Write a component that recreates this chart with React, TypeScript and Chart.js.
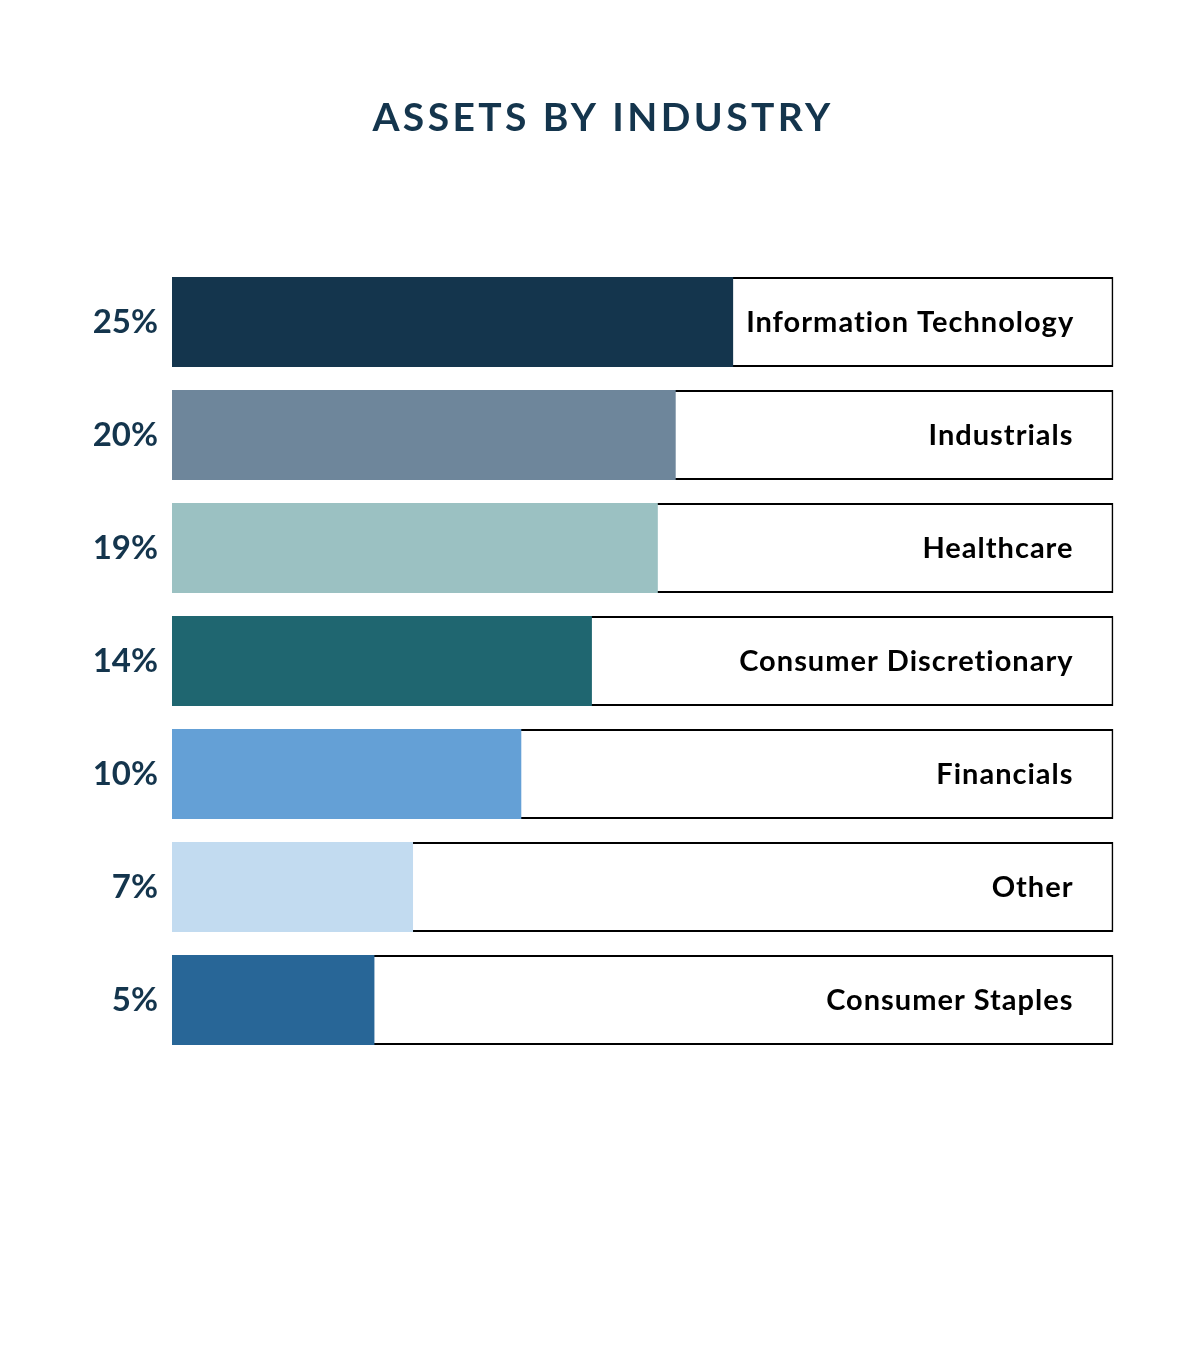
import React, { useEffect, useRef } from "react";
import { Chart, registerables } from "chart.js";

Chart.register(...registerables);

const titleText = "ASSETS BY INDUSTRY";
const categories = [
  "Information Technology",
  "Industrials",
  "Healthcare",
  "Consumer Discretionary",
  "Financials",
  "Other",
  "Consumer Staples",
];
const percentLabels = ["25%", "20%", "19%", "14%", "10%", "7%", "5%"];
// drawn fill length of each bar, on a 0–100 scale of the outlined box
const fillLengths = [59.6, 53.5, 51.6, 44.6, 37.1, 25.6, 21.5];
const boxLengths = [100, 100, 100, 100, 100, 100, 100];
const barColors = ["#14354D", "#6E869B", "#9BC1C2", "#1F6670", "#64A0D6", "#C2DBF0", "#286697"];

const NAVY = "#14354D";
const FONT = "Lato, 'Noto Sans', sans-serif";

const titlePlugin = {
  id: "titlePlugin",
  afterDraw(chart: any) {
    const ctx = chart.ctx;
    ctx.save();
    ctx.font = `700 39px ${FONT}`;
    ctx.fillStyle = NAVY;
    ctx.textBaseline = "middle";
    ctx.textAlign = "center";
    (ctx as any).letterSpacing = "3.4px";
    ctx.fillText(titleText, 603, 118);
    ctx.restore();
  },
};

const categoryLabelPlugin = {
  id: "categoryLabelPlugin",
  afterDatasetsDraw(chart: any) {
    const ctx = chart.ctx;
    const meta = chart.getDatasetMeta(0);
    const area = chart.chartArea;
    ctx.save();
    ctx.font = `700 29px ${FONT}`;
    (ctx as any).letterSpacing = "1px";
    ctx.fillStyle = "#000000";
    ctx.textBaseline = "middle";
    ctx.textAlign = "left";
    meta.data.forEach((bar: any, i: number) => {
      const text = categories[i];
      const w = ctx.measureText(text).width;
      let x = area.right - 40 - w;
      if (x < bar.x + 13) x = bar.x + 13;
      ctx.fillText(text, x, bar.y + 1);
    });
    ctx.restore();
  },
};

export default function App() {
  const canvasRef = useRef<HTMLCanvasElement>(null);

  useEffect(() => {
    if (!canvasRef.current) return;
    const chart = new Chart(canvasRef.current, {
      type: "bar",
      data: {
        labels: categories,
        datasets: [
          {
            data: fillLengths,
            backgroundColor: barColors,
            borderWidth: 0,
            grouped: false,
            barPercentage: 1,
            categoryPercentage: 90 / 113,
          },
          {
            data: boxLengths,
            backgroundColor: "#FFFFFF",
            borderColor: "#000000",
            borderWidth: 2,
            borderSkipped: false,
            grouped: false,
            barPercentage: 1,
            categoryPercentage: 90 / 113,
          },
        ],
      },
      options: {
        indexAxis: "y",
        animation: false,
        responsive: false,
        maintainAspectRatio: false,
        layout: { padding: { left: 0, right: 86.5, top: 265.5, bottom: 293.5 } },
        plugins: {
          legend: { display: false },
          tooltip: { enabled: false },
          title: { display: false },
        },
        scales: {
          x: {
            display: false,
            min: 0,
            max: 100,
          },
          y: {
            grid: { display: false, drawTicks: false },
            border: { display: false },
            afterFit(scale: any) {
              scale.width = 172;
            },
            ticks: {
              padding: 14,
              color: NAVY,
              font: { family: FONT, size: 33, weight: "bold" },
              callback: (_v: any, i: number) => percentLabels[i],
            },
          },
        },
      },
      plugins: [titlePlugin, categoryLabelPlugin],
    });
    return () => chart.destroy();
  }, []);

  return (
    <div style={{ position: "absolute", left: 0, top: 0, width: 1200, height: 1350, background: "#fff" }}>
      <canvas ref={canvasRef} width={1200} height={1350} style={{ width: 1200, height: 1350 }} />
    </div>
  );
}
